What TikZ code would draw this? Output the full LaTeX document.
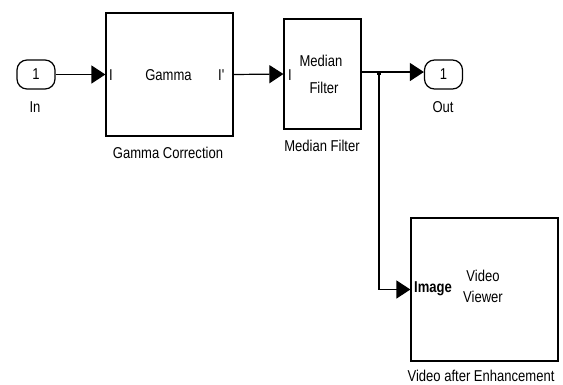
\documentclass[tikz,border=0pt]{standalone}
\usepackage{fontspec}
\setmainfont[FakeStretch=0.83]{Liberation Sans}
\usetikzlibrary{arrows.meta}
\tikzset{
  blk/.style={draw, line width=1.2pt, inner sep=0pt},
  port/.style={draw, line width=1.2pt, rounded corners=10pt, inner sep=0pt, minimum width=38pt, minimum height=29pt},
  wire/.style={line width=1.2pt},
  arr/.style={wire, -{Triangle[length=14pt,width=18pt]}},
  txt/.style={inner sep=0pt},
}
\begin{document}
\begin{tikzpicture}[x=1pt,y=-1pt,font=\fontsize{15.7}{18}\selectfont]
\useasboundingbox (0,0) rectangle (563,384);
% blocks
\node[port] (in) at (36,74.5) {1};
\node[txt] (inlab) at (35,107) {In};
\node[blk, minimum width=127pt, minimum height=123pt] (gamma) at (169.5,74.5) {};
\node[txt] (gtxt) at (168.5,75) {Gamma};
\node[txt, anchor=west] (gin) at (109,75) {I};
\node[txt, anchor=east] (gout) at (225,75) {I\textquotesingle};
\node[txt] (glab) at (168,153) {Gamma Correction};
\node[blk, minimum width=77pt, minimum height=110pt] (median) at (322.5,74) {};
\node[txt] (mt1) at (321,61) {Median};
\node[txt] (mt2) at (324,88) {Filter};
\node[txt, anchor=west] (min) at (288,75) {I};
\node[txt] (mlab) at (322,146) {Median Filter};
\node[port] (out) at (443.5,74.5) {1};
\node[txt] (outlab) at (443,107) {Out};
\node[blk, minimum width=147pt, minimum height=143pt] (video) at (484.5,289.5) {};
\node[txt, font=\fontsize{15.7}{18}\selectfont\bfseries] (vin) at (433,289) {Image};
\node[txt] (vt1) at (483,276) {Video};
\node[txt] (vt2) at (483,297) {Viewer};
\node[txt] (vlab) at (481,376) {Video after Enhancement};
% connectors
\coordinate (j) at (379,72);
\draw[arr] (in.east) -- (gamma.west);
\draw[arr] (gamma.east) -- (median.west);
\draw[arr] (median.east |- j) -- (out.west |- j);
\draw[arr] (j) |- (video.west);
\fill (j) ++(-2,-1) rectangle ++(4,4);
\end{tikzpicture}
\end{document}
